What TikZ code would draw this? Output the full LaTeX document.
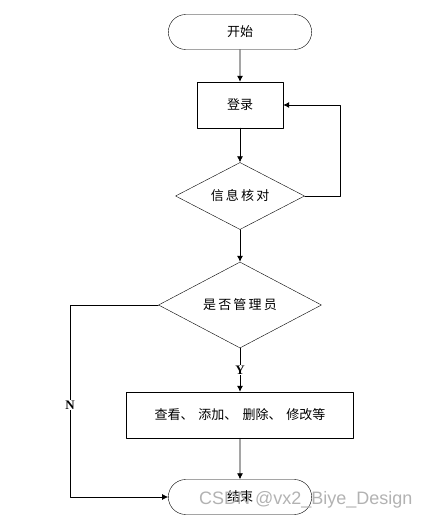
\documentclass[tikz,border=0pt]{standalone}
\usepackage{fontspec}
\setmainfont{Liberation Serif}
\newfontfamily\cjk{Noto Sans CJK SC}
\newfontfamily\wmfont{Liberation Sans}
\usetikzlibrary{shapes.geometric,shapes.misc,arrows.meta}
\tikzset{
	terminal/.style={draw, rounded rectangle, minimum width=150pt, minimum height=35pt, font=\cjk\fontsize{13}{15}\selectfont},
	process/.style={draw, rectangle, minimum height=46pt, font=\cjk\fontsize{13}{15}\selectfont},
	decision/.style={draw, diamond, aspect=1.9, inner sep=0pt, font=\cjk\fontsize{13}{15}\selectfont},
	flow/.style={-{Latex[length=6pt,width=6pt]}, line width=0.8pt},
	yn/.style={fill=white, inner sep=1pt, font=\bfseries\fontsize{13}{15}\selectfont}
}
\begin{document}
\begin{tikzpicture}[x=1pt, y=-1pt, line join=round, line cap=round]
	\useasboundingbox (0,0) rectangle (431,524);
	\node[terminal] (start) at (240,32) {开始};
	\node[process, minimum width=86pt] (login) at (240,105) {登录};
	\node[decision, minimum width=129pt, minimum height=67pt] (check) at (240,196) {信\,息\,核\,对};
	\node[decision, minimum width=163pt, minimum height=86pt] (admin) at (240,305) {是\,否\,管\,理\,员};
	\node[process, minimum width=227pt] (manage) at (240,415) {查看、\hspace{5pt}添加、\hspace{5pt}删除、\hspace{5pt}修改等};
	\node[terminal] (stop) at (240,497) {结束};
	\coordinate (loopup) at (340,105);
	\coordinate (nleft) at (70,305);
	\coordinate (nbottom) at (70,497);
	% connectors
	\draw[flow] (start) -- (login);
	\draw[flow] (login) -- (check);
	\draw[flow] (check.east) -| (loopup) -- (login.east);
	\draw[flow] (check) -- (admin);
	\draw[flow] (admin) -- node[yn]{Y} (manage);
	\draw[flow] (manage) -- (stop);
	\draw[flow] (admin.west) -- (nleft) -- node[pos=0.52, yn]{N} (nbottom) -- (stop.west);
	\node[text=gray!60, font=\wmfont\fontsize{18}{20}\selectfont, anchor=west, inner sep=0pt] (mark) at (199,500) {CSDN @vx2\_Biye\_Design};
\end{tikzpicture}
\end{document}
